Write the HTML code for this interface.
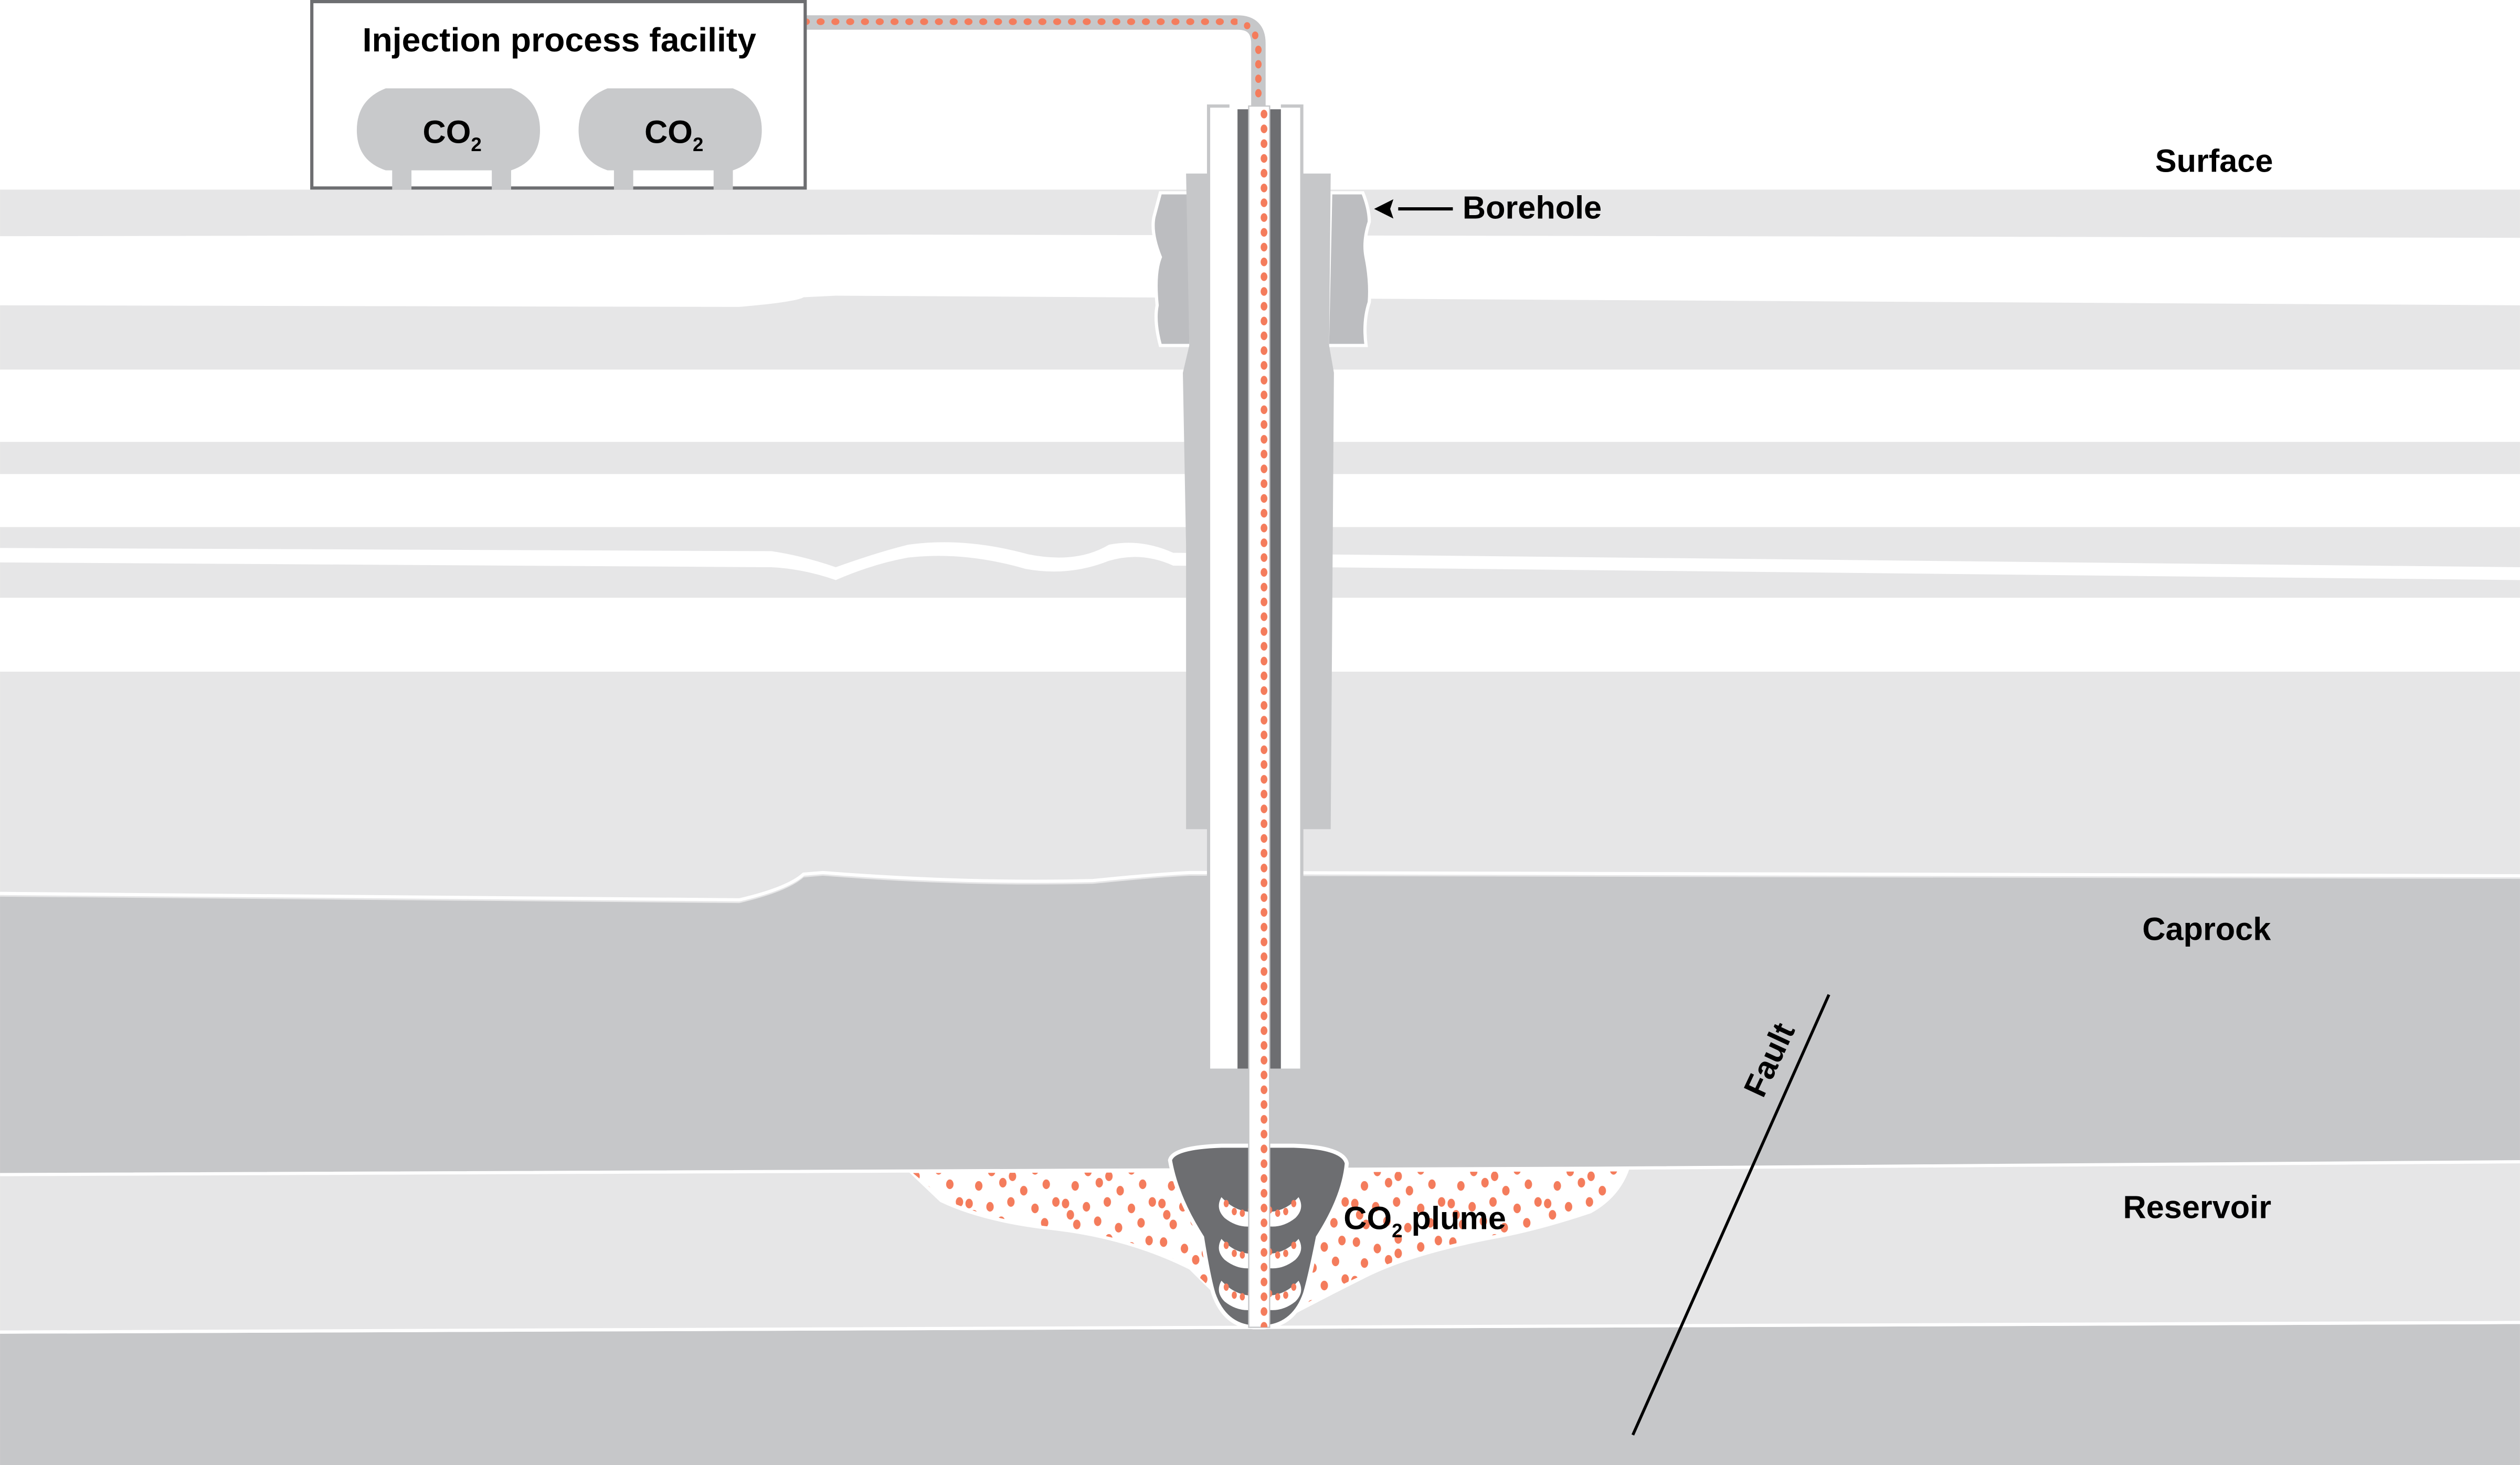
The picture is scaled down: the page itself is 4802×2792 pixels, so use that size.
<!DOCTYPE html>
<html><head><meta charset="utf-8"><style>
html,body{margin:0;padding:0;background:#fff}
svg{display:block}
text{font-family:"Liberation Sans Narrow","Liberation Sans",sans-serif;font-weight:bold;fill:#000}
</style></head><body>
<svg width="4802" height="2792" viewBox="0 0 1568 911.7" xmlns="http://www.w3.org/2000/svg">
<defs>
<pattern id="tube" x="0" y="2" width="13" height="9.2" patternUnits="userSpaceOnUse">
<ellipse cx="6.5" cy="4.6" rx="2.1" ry="2.7" fill="#f47c5c"/>
</pattern>
<pattern id="pipeh" x="0" y="0" width="9.2" height="9" patternUnits="userSpaceOnUse">
<ellipse cx="4.6" cy="4.5" rx="2.5" ry="2.1" fill="#f47c5c"/>
</pattern>
<pattern id="plume" x="0" y="0" width="60" height="48" patternUnits="userSpaceOnUse">
<g fill="#f47c5c">
<ellipse cx="4" cy="5" rx="2.3" ry="3"/><ellipse cx="17" cy="9" rx="2.3" ry="3"/><ellipse cx="30" cy="3" rx="2.3" ry="3"/><ellipse cx="44" cy="8" rx="2.3" ry="3"/><ellipse cx="55" cy="4" rx="2.3" ry="3"/>
<ellipse cx="9" cy="18" rx="2.3" ry="3"/><ellipse cx="24" cy="16" rx="2.3" ry="3"/><ellipse cx="37" cy="21" rx="2.3" ry="3"/><ellipse cx="51" cy="17" rx="2.3" ry="3"/>
<ellipse cx="3" cy="29" rx="2.3" ry="3"/><ellipse cx="16" cy="31" rx="2.3" ry="3"/><ellipse cx="29" cy="28" rx="2.3" ry="3"/><ellipse cx="44" cy="32" rx="2.3" ry="3"/><ellipse cx="57" cy="28" rx="2.3" ry="3"/>
<ellipse cx="10" cy="42" rx="2.3" ry="3"/><ellipse cx="23" cy="40" rx="2.3" ry="3"/><ellipse cx="36" cy="44" rx="2.3" ry="3"/><ellipse cx="50" cy="41" rx="2.3" ry="3"/>
<ellipse cx="30" cy="12" rx="2.3" ry="3"/><ellipse cx="6" cy="36" rx="2.3" ry="3"/>
</g></pattern>
</defs>
<rect width="1568" height="912" fill="#fff"/>
<!-- strata -->
<path d="M0 118 L1568 118 L1568 148 L560 146 L0 147 Z" fill="#e6e6e7"/>
<path d="M0 190 L460 191 Q495 188 500 185 L520 184 L1568 190 L1568 230 L0 230 Z" fill="#e6e6e7"/>
<rect x="0" y="275" width="1568" height="20" fill="#e6e6e7"/>
<rect x="0" y="328" width="1568" height="44" fill="#e6e6e7"/>
<path d="M0 341 L480 343 Q500 346 520 353 Q545 344 565 339 Q600 334 640 345 Q670 351 690 339 Q710 335 730 344 L1568 353 L1568 361 L730 352 Q710 343 690 349 Q665 359 638 354 Q600 343 565 347 Q543 351 520 361 Q500 354 480 353 L0 350 Z" fill="#fff"/>
<rect x="0" y="418" width="1568" height="150" fill="#e6e6e7"/>
<path d="M0 558 L460 562 Q490 555 500 546 L512 545 Q600 552 680 550 Q720 546 740 545 L1568 547 L1568 724 L1000 728 L0 732 Z" fill="#c6c7c9"/>
<path d="M0 556 L460 560 Q490 553 500 544 L512 543 Q600 550 680 548 Q720 544 740 543 L1568 545" fill="none" stroke="#fff" stroke-width="2"/>
<path d="M0 732 L1000 728 L1568 724 L1568 823 L0 828 Z" fill="#e6e6e7"/>
<path d="M0 830 L1568 824 L1568 911.7 L0 911.7 Z" fill="#c6c7c9"/>
<path d="M0 829 L1568 823" stroke="#fff" stroke-width="2" fill="none"/>
<path d="M0 731 L1000 727 L1568 723" stroke="#fff" stroke-width="2" fill="none"/>
<!-- plume white region -->
<path d="M564 728 L1014 727 Q1008 745 990 755 Q960 765 935 770 Q880 780 850 795 Q820 810 790 826 L778 826 Q760 810 740 790 Q700 770 650 765 Q610 760 585 748 Z" fill="#fff"/>
<path d="M568 730 L1010 729 Q1004 745 988 753 Q958 763 933 768 Q880 778 849 793 Q820 806 792 823 L776 823 Q758 806 738 787 Q700 768 650 763 Q612 758 587 746 Z" fill="url(#plume)"/>
<!-- plume dark body -->
<path d="M728 722 Q730 714 760 713 L805 713 Q836 714 838 724 Q836 745 820 770 Q815 795 812 805 Q805 825 786 826 L780 826 Q762 825 755 805 Q752 795 748 770 Q732 745 728 722 Z" fill="#6d6e71" stroke="#fff" stroke-width="2.5"/>
<g fill="#fff">
<path d="M760 745 Q770 756 784 754 Q798 756 808 745 Q812 752 806 758 Q796 766 784 762 Q772 766 762 758 Q756 752 760 745 Z"/>
<path d="M760 771 Q770 782 784 780 Q798 782 808 771 Q812 778 806 784 Q796 792 784 788 Q772 792 762 784 Q756 778 760 771 Z"/>
<path d="M760 797 Q770 808 784 806 Q798 808 808 797 Q812 804 806 810 Q796 818 784 814 Q772 818 762 810 Q756 804 760 797 Z"/>
</g>
<g fill="#f47c5c">
<ellipse cx="763" cy="749" rx="1.6" ry="2.3"/><ellipse cx="768" cy="754" rx="1.6" ry="2.3"/><ellipse cx="773" cy="755" rx="1.6" ry="2.3"/><ellipse cx="778" cy="753" rx="1.6" ry="2.3"/><ellipse cx="790" cy="753" rx="1.6" ry="2.3"/><ellipse cx="795" cy="755" rx="1.6" ry="2.3"/><ellipse cx="800" cy="754" rx="1.6" ry="2.3"/><ellipse cx="805" cy="749" rx="1.6" ry="2.3"/>
<ellipse cx="763" cy="775" rx="1.6" ry="2.3"/><ellipse cx="768" cy="780" rx="1.6" ry="2.3"/><ellipse cx="773" cy="781" rx="1.6" ry="2.3"/><ellipse cx="778" cy="779" rx="1.6" ry="2.3"/><ellipse cx="790" cy="779" rx="1.6" ry="2.3"/><ellipse cx="795" cy="781" rx="1.6" ry="2.3"/><ellipse cx="800" cy="780" rx="1.6" ry="2.3"/><ellipse cx="805" cy="775" rx="1.6" ry="2.3"/>
<ellipse cx="763" cy="801" rx="1.6" ry="2.3"/><ellipse cx="768" cy="806" rx="1.6" ry="2.3"/><ellipse cx="773" cy="807" rx="1.6" ry="2.3"/><ellipse cx="778" cy="805" rx="1.6" ry="2.3"/><ellipse cx="790" cy="805" rx="1.6" ry="2.3"/><ellipse cx="795" cy="807" rx="1.6" ry="2.3"/><ellipse cx="800" cy="806" rx="1.6" ry="2.3"/><ellipse cx="805" cy="801" rx="1.6" ry="2.3"/>
</g>
<!-- cement blocks -->
<path d="M722 120 L740 120 L741 215 L722 215 Q718 200 720 190 Q718 170 722 160 Q716 145 718 135 Z" fill="#bcbdc0" stroke="#fff" stroke-width="2"/>
<path d="M828 120 L848 120 Q852 130 852 138 Q848 150 850 160 Q853 175 852 188 Q848 200 850 215 L826 215 Z" fill="#bcbdc0" stroke="#fff" stroke-width="2"/>
<!-- outer casing -->
<path d="M738 108 L828 108 L827 215 L830 232 L828 516 L738 516 L738 340 L736 232 L740 215 Z" fill="#c6c7c9"/>
<!-- inner casing -->
<rect x="752" y="66" width="58" height="600" fill="#fff" stroke="#c6c7c9" stroke-width="2"/>
<rect x="765" y="64" width="32" height="4" fill="#fff"/>
<rect x="770" y="68" width="27" height="597" fill="#6d6e71"/>
<rect x="777" y="66" width="13" height="760" fill="#fff" stroke="#c6c7c9" stroke-width="0.8"/>
<rect x="777" y="66" width="13" height="760" fill="url(#tube)"/>
<!-- pipe -->
<path d="M502 14 L770 14 Q783 14 783 27 L783 66" fill="none" stroke="#c6c7c9" stroke-width="9"/>
<path d="M502 14 L770 14" stroke="url(#pipeh)" stroke-width="9"/>
<g fill="#f47c5c"><ellipse cx="776" cy="16" rx="2" ry="2.2"/><ellipse cx="781" cy="22" rx="2" ry="2.4"/><ellipse cx="783" cy="31" rx="2" ry="2.6"/><ellipse cx="783" cy="40" rx="2" ry="2.6"/><ellipse cx="783" cy="49" rx="2" ry="2.6"/><ellipse cx="783" cy="58" rx="2" ry="2.6"/></g>
<!-- facility -->
<rect x="194" y="1" width="307" height="116" fill="#fff" stroke="#6d6e71" stroke-width="2"/>
<text x="348" y="32" font-size="21" text-anchor="middle">Injection process facility</text>
<g fill="#c8c9cb">
<rect x="244" y="104" width="12" height="14"/><rect x="306" y="104" width="12" height="14"/>
<rect x="382" y="104" width="12" height="14"/><rect x="444" y="104" width="12" height="14"/>
<path d="M240 55 L318 55 Q336 62 336 81 Q336 100 318 106 L240 106 Q222 100 222 81 Q222 62 240 55 Z"/>
<path d="M378 55 L456 55 Q474 62 474 81 Q474 100 456 106 L378 106 Q360 100 360 81 Q360 62 378 55 Z"/>
</g>
<text x="263" y="89" font-size="20">CO<tspan font-size="12" dy="5">2</tspan></text>
<text x="401" y="89" font-size="20">CO<tspan font-size="12" dy="5">2</tspan></text>
<!-- labels -->
<text x="1341" y="107" font-size="20">Surface</text>
<line x1="870" y1="130" x2="904" y2="130" stroke="#000" stroke-width="2"/>
<path d="M855 130 L867 124 L865 130 L867 136 Z" fill="#000"/>
<text x="910" y="136" font-size="20">Borehole</text>
<text x="1333" y="585" font-size="20">Caprock</text>
<text x="1321" y="758" font-size="20">Reservoir</text>
<text x="836" y="765" font-size="20">CO<tspan font-size="12" dy="5">2</tspan><tspan dy="-5"> plume</tspan></text>
<line x1="1138" y1="619" x2="1016" y2="893" stroke="#000" stroke-width="1.8"/>
<text x="0" y="0" font-size="20" transform="translate(1097,684) rotate(-65)">Fault</text>
</svg>
</body></html>
